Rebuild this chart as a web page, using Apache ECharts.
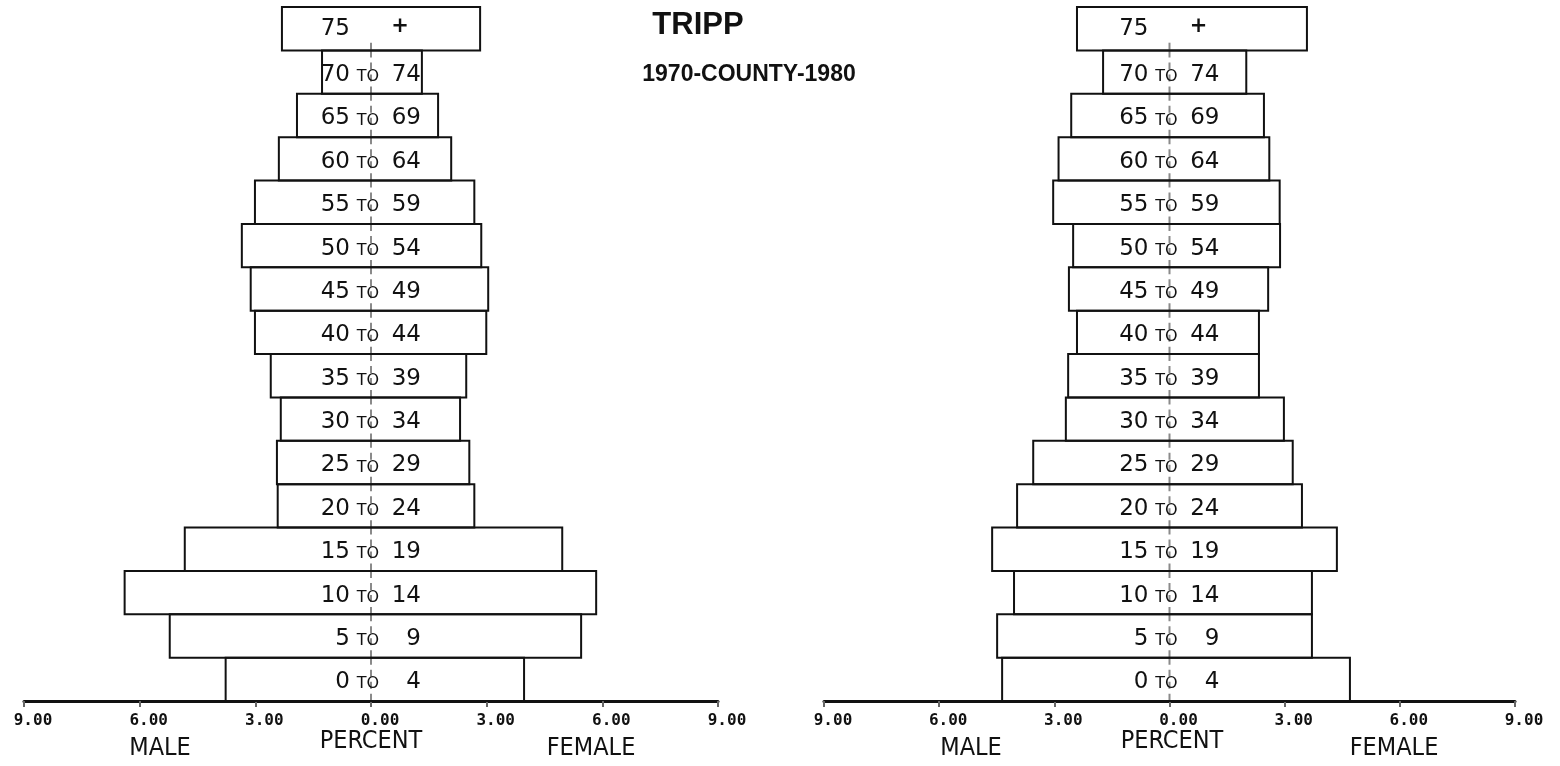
<!DOCTYPE html>
<html>
<head>
<meta charset="utf-8">
<title>TRIPP 1970-COUNTY-1980</title>
<script src="https://cdn.jsdelivr.net/npm/echarts@6/dist/echarts.min.js"></script>
<style>
  html, body { margin: 0; padding: 0; background: #ffffff; }
  #chart { width: 1560px; height: 766px; }
</style>
</head>
<body>
<div id="chart"></div>
<script>
// Age groups, youngest at the bottom of each pyramid
const ageGroups = [
  '0 TO 4', '5 TO 9', '10 TO 14', '15 TO 19', '20 TO 24', '25 TO 29',
  '30 TO 34', '35 TO 39', '40 TO 44', '45 TO 49', '50 TO 54', '55 TO 59',
  '60 TO 64', '65 TO 69', '70 TO 74', '75 +'
];

// Percent of county population, 1970
const male1970   = [3.77, 5.22, 6.39, 4.83, 2.42, 2.44, 2.34, 2.60, 3.01, 3.12, 3.35, 3.01, 2.39, 1.92, 1.27, 2.31];
const female1970 = [3.97, 5.45, 5.84, 4.96, 2.68, 2.55, 2.31, 2.47, 2.99, 3.04, 2.86, 2.68, 2.08, 1.74, 1.32, 2.83];

// Percent of county population, 1980
const male1980   = [4.36, 4.49, 4.05, 4.62, 3.97, 3.55, 2.70, 2.64, 2.41, 2.62, 2.51, 3.03, 2.89, 2.56, 1.73, 2.41];
const female1980 = [4.70, 3.71, 3.71, 4.36, 3.45, 3.21, 2.98, 2.33, 2.33, 2.57, 2.88, 2.87, 2.60, 2.46, 2.00, 3.58];

// Percent scale shared by both pyramids
const percentMin = -9;
const percentMax = 9;
const percentStep = 3;

const INK = '#111111';
const LABEL_FONT = '"DejaVu Sans", sans-serif';
const CAPTION_FONT = '"Liberation Sans Narrow", "DejaVu Sans Condensed", "Liberation Sans", sans-serif';

function rowsFor(male, female) {
  return ageGroups.map((g, i) => [i, male[i], female[i]]);
}

// One box per age group spanning male (left) to female (right) share
function renderRow(params, api) {
  const i = api.value(0);
  const m = api.value(1);
  const f = api.value(2);
  const pL = api.coord([-m, i]);
  const pR = api.coord([f, i]);
  const cx = api.coord([0, i])[0];
  const cy = pL[1];
  const h = api.size([0, 1])[1];
  const top = cy - h / 2;
  const isTop = i === ageGroups.length - 1;

  const children = [
    {
      type: 'line',
      shape: { x1: cx, y1: isTop ? cy + 14 : top, x2: cx, y2: top + h },
      style: { stroke: '#8a8a8a', lineWidth: 2, lineDash: [7, 5] },
      z2: 1
    },
    {
      type: 'rect',
      shape: { x: pL[0], y: top, width: pR[0] - pL[0], height: h },
      style: { fill: 'none', stroke: INK, lineWidth: 2 },
      z2: 2
    }
  ];

  const label = ageGroups[i];
  const ty = cy + 3;
  if (label.indexOf(' TO ') >= 0) {
    const parts = label.split(' TO ');
    children.push(
      { type: 'text', x: cx - 21, y: ty, z2: 3,
        style: { text: parts[0], fill: INK, font: '23px ' + LABEL_FONT, align: 'right', verticalAlign: 'middle' } },
      { type: 'text', x: cx - 3, y: ty + 2, z2: 3,
        style: { text: 'TO', fill: INK, font: '16px ' + LABEL_FONT, align: 'center', verticalAlign: 'middle' } },
      { type: 'text', x: cx + 50, y: ty, z2: 3,
        style: { text: parts[1], fill: INK, font: '23px ' + LABEL_FONT, align: 'right', verticalAlign: 'middle' } }
    );
  } else {
    const parts = label.split(' ');
    children.push(
      { type: 'text', x: cx - 21, y: ty - 3, z2: 3,
        style: { text: parts[0], fill: INK, font: '23px ' + LABEL_FONT, align: 'right', verticalAlign: 'middle' } },
      { type: 'text', x: cx + 29, y: ty - 5, z2: 3,
        style: { text: parts[1], fill: INK, font: 'bold 21px ' + LABEL_FONT, align: 'center', verticalAlign: 'middle' } }
    );
  }
  return { type: 'group', children };
}

function percentAxis(gridIndex) {
  return {
    type: 'value',
    gridIndex,
    min: percentMin,
    max: percentMax,
    interval: percentStep,
    position: 'bottom',
    axisLine: { show: true, onZero: false, lineStyle: { color: INK, width: 3 } },
    axisTick: { show: true, length: 6, lineStyle: { color: '#666', width: 2 } },
    splitLine: { show: false },
    axisLabel: {
      margin: 12,
      padding: [0, 0, 0, 18],
      color: INK,
      fontFamily: '"DejaVu Sans Mono", monospace',
      fontWeight: 'bold',
      fontSize: 16,
      formatter: v => Math.abs(v).toFixed(2)
    }
  };
}

function ageAxis(gridIndex) {
  return {
    type: 'category',
    gridIndex,
    data: ageGroups,
    show: false,
    boundaryGap: true
  };
}

function caption(text, x, y, size) {
  return {
    type: 'text',
    x, y,
    style: {
      text,
      fill: INK,
      font: size + 'px ' + CAPTION_FONT,
      align: 'center',
      verticalAlign: 'middle'
    }
  };
}

const chart = echarts.init(document.getElementById('chart'), null, { renderer: 'canvas' });

chart.setOption({
  backgroundColor: '#ffffff',
  animation: false,
  grid: [
    { left: 24, top: 7, width: 694, height: 694 },
    { left: 824, top: 7, width: 691, height: 694 }
  ],
  xAxis: [percentAxis(0), percentAxis(1)],
  yAxis: [ageAxis(0), ageAxis(1)],
  series: [
    {
      name: '1970',
      type: 'custom',
      xAxisIndex: 0,
      yAxisIndex: 0,
      renderItem: renderRow,
      encode: { x: [1, 2], y: 0 },
      data: rowsFor(male1970, female1970)
    },
    {
      name: '1980',
      type: 'custom',
      xAxisIndex: 1,
      yAxisIndex: 1,
      renderItem: renderRow,
      encode: { x: [1, 2], y: 0 },
      data: rowsFor(male1980, female1980)
    }
  ],
  graphic: [
    {
      type: 'text', x: 698, y: 25,
      style: { text: 'TRIPP', fill: INK, font: 'bold 31px "Liberation Sans", Arial, sans-serif', align: 'center', verticalAlign: 'middle' }
    },
    {
      type: 'text', x: 749, y: 75,
      style: { text: '1970-COUNTY-1980', fill: INK, font: 'bold 23px "Liberation Sans", Arial, sans-serif', align: 'center', verticalAlign: 'middle' }
    },
    caption('MALE', 160, 748, 25),
    caption('PERCENT', 371, 741, 25),
    caption('FEMALE', 591, 748, 25),
    caption('MALE', 971, 748, 25),
    caption('PERCENT', 1172, 741, 25),
    caption('FEMALE', 1394, 748, 25)
  ]
});
</script>
</body>
</html>
